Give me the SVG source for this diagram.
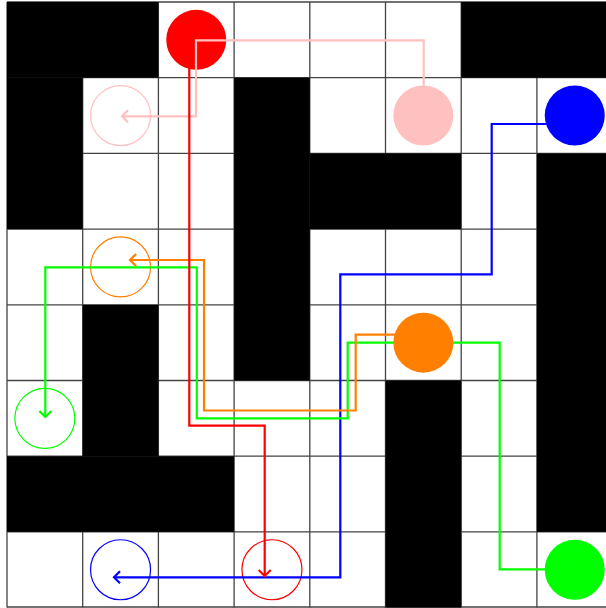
<svg xmlns="http://www.w3.org/2000/svg" width="606" height="608" viewBox="0 0 606 608">
<style>
.wall{fill:#000}
.grid{stroke:#444;stroke-width:1.3;fill:none}
.goal{fill:none;stroke-width:1.2}
.route{fill:none;stroke-width:2.2;stroke-linejoin:miter}
</style>
<defs>
<marker id="aPink" markerUnits="userSpaceOnUse" markerWidth="16" markerHeight="16" refX="8" refY="8" orient="auto" overflow="visible"><path d="M2,2 L8,8 L2,14" fill="none" stroke="#ffc0c0" stroke-width="2.2"/></marker>
<marker id="aRed" markerUnits="userSpaceOnUse" markerWidth="16" markerHeight="16" refX="8" refY="8" orient="auto" overflow="visible"><path d="M2,2 L8,8 L2,14" fill="none" stroke="#ff0000" stroke-width="2.2"/></marker>
<marker id="aOrange" markerUnits="userSpaceOnUse" markerWidth="16" markerHeight="16" refX="8" refY="8" orient="auto" overflow="visible"><path d="M2,2 L8,8 L2,14" fill="none" stroke="#ff8000" stroke-width="2.2"/></marker>
<marker id="aGreen" markerUnits="userSpaceOnUse" markerWidth="16" markerHeight="16" refX="8" refY="8" orient="auto" overflow="visible"><path d="M2,2 L8,8 L2,14" fill="none" stroke="#00ff00" stroke-width="2.2"/></marker>
<marker id="aBlue" markerUnits="userSpaceOnUse" markerWidth="16" markerHeight="16" refX="8" refY="8" orient="auto" overflow="visible"><path d="M2,2 L8,8 L2,14" fill="none" stroke="#0000ff" stroke-width="2.2"/></marker>
</defs>
<rect x="0" y="0" width="606" height="608" fill="#fff"/>
<g id="grid" class="grid">
<path d="M7,2V607.6M82.7,2V607.6M158.4,2V607.6M234.1,2V607.6M309.8,2V607.6M385.5,2V607.6M461.2,2V607.6M536.9,2V607.6M612.6,2V607.6"/>
<path d="M7,2H612.6M7,77.7H612.6M7,153.4H612.6M7,229.1H612.6M7,304.8H612.6M7,380.5H612.6M7,456.2H612.6M7,531.9H612.6M7,607H612.6"/>
</g>
<g id="walls">
<rect class="wall" x="7" y="2" width="151.4" height="75.7"/>
<rect class="wall" x="461.2" y="2" width="151.4" height="75.7"/>
<rect class="wall" x="7" y="77.7" width="75.7" height="151.4"/>
<rect class="wall" x="234.1" y="77.7" width="75.7" height="302.8"/>
<rect class="wall" x="309.8" y="153.4" width="151.4" height="75.7"/>
<rect class="wall" x="536.9" y="153.4" width="75.7" height="378.5"/>
<rect class="wall" x="82.7" y="304.8" width="75.7" height="151.4"/>
<rect class="wall" x="385.5" y="380.5" width="75.7" height="227.1"/>
<rect class="wall" x="7" y="456.2" width="227.1" height="75.7"/>
</g>
<g id="goals">
<circle id="goal-pink" class="goal" cx="120.55" cy="115.55" r="30" stroke="#ffc0c0"/>
<circle id="goal-orange" class="goal" cx="120.55" cy="266.95" r="30" stroke="#ff8000"/>
<circle id="goal-green" class="goal" cx="44.85" cy="418.35" r="30" stroke="#00ff00"/>
<circle id="goal-blue" class="goal" cx="120.55" cy="569.75" r="30" stroke="#0000ff"/>
<circle id="goal-red" class="goal" cx="271.95" cy="569.75" r="30" stroke="#ff0000"/>
</g>
<g id="agent-red"><circle cx="196.25" cy="39.85" r="30" fill="#ff0000"/></g>
<g id="agent-pink"><circle cx="423.35" cy="115.55" r="30" fill="#ffc0c0"/></g>
<g id="connectors">
<path class="route" stroke="#0000ff" d="M574.7,124 H491.7 V274.3 H340.3 V577.3 H114" marker-end="url(#aBlue)"/>
<path class="route" stroke="#00ff00" d="M574.7,569.3 H499.7 V342.7 H347.7 V418.3 H196.8 V267.3 H45.3 V417" marker-end="url(#aGreen)"/>
<path class="route" stroke="#ff8000" d="M423,334.7 H355.7 V410.5 H204 V260 H130" marker-end="url(#aOrange)"/>
<path class="route" stroke="#ffc0c0" d="M423.7,115.5 V40.3 H196 V116.3 H122" marker-end="url(#aPink)"/>
<path class="route" stroke="#ff0000" d="M189.3,47 V425.7 H264.7 V576" marker-end="url(#aRed)"/>
</g>
<g id="agent-orange"><circle cx="423.35" cy="342.65" r="30" fill="#ff8000"/></g>
<g id="agent-blue"><circle cx="574.75" cy="115.55" r="30" fill="#0000ff"/></g>
<g id="agent-green"><circle cx="574.75" cy="569.75" r="30" fill="#00ff00"/></g>
</svg>
